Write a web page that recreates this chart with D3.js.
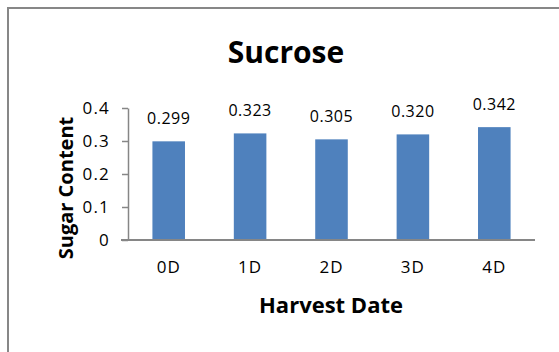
<!DOCTYPE html>
<html><head><meta charset="utf-8">
<script src="https://cdn.jsdelivr.net/npm/d3@7"></script>
<style>body{margin:0;background:#fff}svg{display:block}text{font-family:"Open Sans",sans-serif}</style>
</head><body>
<script>
const categories = ["0D","1D","2D","3D","4D"];
const values = [0.299,0.323,0.305,0.320,0.342];
const yTicks = [0,0.1,0.2,0.3,0.4];
const title = "Sucrose";
const xTitle = "Harvest Date";
const yTitle = "Sugar Content";

const W=559,H=352;
const svg=d3.select("body").append("svg").attr("width",W).attr("height",H);
svg.append("rect").attr("x",8).attr("y",8).attr("width",W).attr("height",H)
  .attr("fill","#fff").attr("stroke","#878787").attr("stroke-width",2);

const x=d3.scaleBand().domain(categories).range([128,535]).paddingInner(0.6).paddingOuter(0.3);
const y=d3.scaleLinear().domain([0,0.4]).range([240,108]);

const gy=svg.append("g").attr("transform","translate(128,0)")
  .call(d3.axisLeft(y).tickValues(yTicks).tickFormat(d=>d===0?"0":d3.format(".1f")(d)).tickSize(6).tickSizeOuter(0).tickPadding(12));
gy.select(".domain").attr("stroke","#868686").attr("stroke-width",1.5);
gy.selectAll(".tick line").attr("stroke","#868686").attr("stroke-width",1.5);
gy.selectAll("text").attr("font-size",17).attr("fill","#000").attr("letter-spacing",1.2).style("font-family","'Open Sans'");

svg.selectAll(".bar").data(values).enter().append("rect")
  .attr("x",(d,i)=>x(categories[i])).attr("width",x.bandwidth())
  .attr("y",d=>y(d)).attr("height",d=>240-y(d)).attr("fill","#4F81BD");

const gx=svg.append("g").attr("transform","translate(0,240)")
  .call(d3.axisBottom(x).tickSize(0).tickPadding(21));
gx.select(".domain").attr("stroke","#868686").attr("stroke-width",2).attr("d","M121,0H535");
gx.selectAll("text").attr("font-size",17).attr("fill","#000").attr("letter-spacing",1).style("font-family","'Open Sans'");

svg.selectAll(".lbl").data(values).enter().append("text")
  .attr("x",(d,i)=>x(categories[i])+x.bandwidth()/2).attr("y",d=>y(d)-17)
  .attr("text-anchor","middle").attr("font-size",16).attr("letter-spacing",0.5).text(d=>d3.format(".3f")(d));

svg.append("text").attr("x",286).attr("y",63).attr("text-anchor","middle")
  .attr("font-size",30).attr("font-weight","bold").text(title);
svg.append("text").attr("x",331).attr("y",313).attr("text-anchor","middle")
  .attr("font-size",22).attr("font-weight","bold").text(xTitle);
svg.append("text").attr("transform","translate(73,188) rotate(-90)").attr("text-anchor","middle")
  .attr("font-size",20).attr("font-weight","bold").text(yTitle);
</script>
</body></html>
